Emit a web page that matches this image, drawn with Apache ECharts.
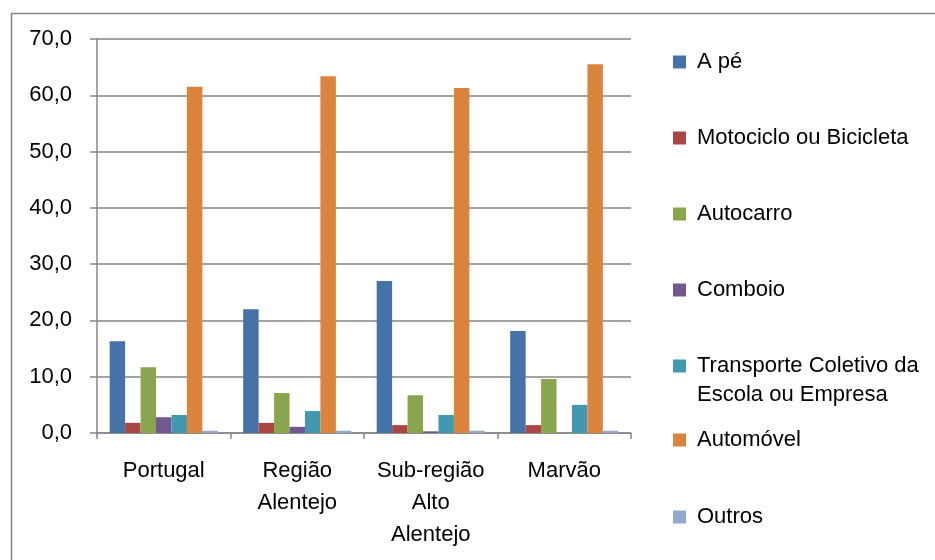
<!DOCTYPE html>
<html>
<head>
<meta charset="utf-8">
<script src="https://cdn.jsdelivr.net/npm/echarts@6/dist/echarts.min.js"></script>
<style>html,body{margin:0;padding:0;background:#fff}#c{width:935px;height:560px}</style>
</head>
<body>
<div id="c"></div>
<script>
var categories = ['Portugal', 'Região\nAlentejo', 'Sub-região\nAlto\nAlentejo', 'Marvão'];
var seriesNames = ['A pé', 'Motociclo ou Bicicleta', 'Autocarro', 'Comboio', 'Transporte Coletivo da Escola ou Empresa', 'Automóvel', 'Outros'];
var aPe = [16.3, 22.0, 27.0, 18.1];
var moto = [1.8, 1.8, 1.4, 1.4];
var autocarro = [11.7, 7.1, 6.7, 9.6];
var comboio = [2.8, 1.1, 0.3, 0.0];
var transporte = [3.2, 3.9, 3.2, 5.0];
var automovel = [61.5, 63.4, 61.3, 65.5];
var outros = [0.4, 0.4, 0.4, 0.4];
var yTicks = [0, 10, 20, 30, 40, 50, 60, 70];

var colors = ['#4572A7', '#AA4643', '#89A54E', '#71588F', '#4198AF', '#DB843D', '#93A9CF'];
var values = [aPe, moto, autocarro, comboio, transporte, automovel, outros];
var font = 'Liberation Sans';
var fs = 22;

var chart = echarts.init(document.getElementById('c'));
var legendCenters = [62, 138, 214, 290, 366, 440, 517];
var legends = seriesNames.map(function (n, i) {
  return {
    data: [n], orient: 'vertical', left: 673, top: legendCenters[i] - 12, padding: 0,
    itemWidth: 13, itemHeight: 13, itemGap: 0, icon: 'rect',
    selectedMode: false,
    formatter: function (name) { return name === seriesNames[4] ? 'Transporte Coletivo da' : name; },
    textStyle: { fontFamily: font, fontSize: fs, color: '#000', lineHeight: 24, padding: [0, 0, 0, 6] }
  };
});
chart.setOption({
  animation: false,
  color: colors,
  grid: { left: 97, right: 304, top: 39, bottom: 127 },
  legend: legends,
  graphic: [
    { type: 'rect', left: 9, top: 11, shape: { width: 940, height: 560 }, style: { fill: 'none', stroke: '#868686', lineWidth: 1.5 } },
    { type: 'text', left: 697, top: 384, style: { text: 'Escola ou Empresa', font: fs + 'px "Liberation Sans"', fill: '#000' } }
  ],
  xAxis: {
    type: 'category', data: categories,
    axisLine: { lineStyle: { color: '#868686', width: 1.5 } },
    axisTick: { show: true, length: 6, lineStyle: { color: '#868686', width: 1.5 } },
    axisLabel: { fontFamily: font, fontSize: fs, color: '#000', margin: 22, lineHeight: 32, interval: 0 }
  },
  yAxis: {
    type: 'value', min: yTicks[0], max: yTicks[yTicks.length - 1], interval: 10,
    axisLine: { show: true, lineStyle: { color: '#868686', width: 1.5 } },
    axisTick: { show: true, length: 7, lineStyle: { color: '#868686', width: 1.5 } },
    splitLine: { lineStyle: { color: '#868686', width: 1.5 } },
    axisLabel: { fontFamily: font, fontSize: fs, color: '#000', margin: 25,
      formatter: function (v) { return v.toFixed(1).replace('.', ','); } }
  },
  series: seriesNames.map(function (n, i) {
    return { name: n, type: 'bar', data: values[i], barGap: '0%', barCategoryGap: '19%',
      itemStyle: { color: colors[i] } };
  })
});
</script>
</body>
</html>
